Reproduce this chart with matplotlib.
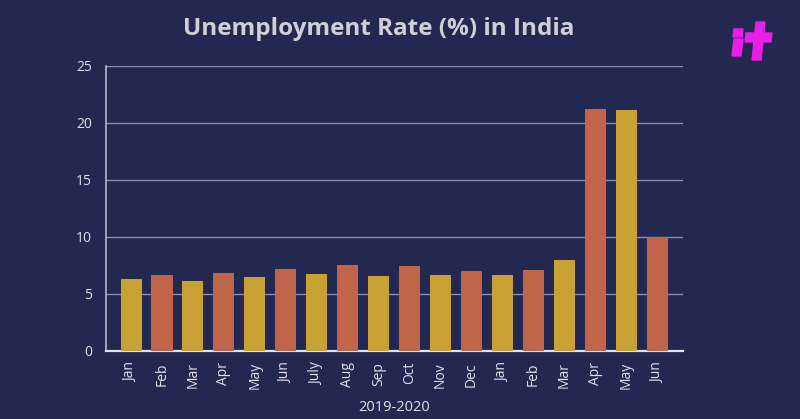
import matplotlib
matplotlib.use('Agg')
import matplotlib.pyplot as plt
from matplotlib.patches import Polygon
import numpy as np

months = ['Jan', 'Feb', 'Mar', 'Apr', 'May', 'Jun', 'July', 'Aug', 'Sep', 'Oct',
          'Nov', 'Dec', 'Jan', 'Feb', 'Mar', 'Apr', 'May', 'Jun']
rate = [6.3, 6.67, 6.14, 6.8, 6.46, 7.19, 6.75, 7.54, 6.58, 7.48,
        6.63, 6.99, 6.63, 7.08, 7.98, 21.25, 21.1, 10.0]

bg = '#222850'
gold = '#c9a033'
rust = '#c0654a'
text_col = '#e2e2ea'

plt.rcParams['font.family'] = ['Open Sans', 'DejaVu Sans']

fig = plt.figure(figsize=(8, 4.19), dpi=100, facecolor=bg)
ax = fig.add_axes([0.1325, 0.1623, 0.7215, 0.6802], facecolor=bg)

x = np.arange(len(months))
colors = [gold if i % 2 == 0 else rust for i in range(len(months))]
ax.bar(x, rate, width=0.68, color=colors, zorder=3)

ax.set_ylim(0, 25)
ax.set_xlim(-0.81, 17.84)
ax.set_yticks([0, 5, 10, 15, 20, 25])
ax.set_xticks(x)
ax.set_xticklabels(months, rotation=90)
ax.tick_params(axis='both', length=0, labelcolor=text_col, labelsize=10)
ax.tick_params(axis='x', pad=8)
ax.tick_params(axis='y', pad=10)
ax.grid(axis='y', color='#8a8eb4', linewidth=1, zorder=0)

for s in ['top', 'right']:
    ax.spines[s].set_visible(False)
ax.spines['left'].set_color('#b8bccf')
ax.spines['left'].set_linewidth(1.2)
ax.spines['bottom'].set_color('#e0e2ee')
ax.spines['bottom'].set_linewidth(1.6)

ax.set_xlabel('2019-2020', color=text_col, fontsize=10.5, labelpad=8)

fig.text(0.473, 0.93, 'Unemployment Rate (%) in India', ha='center', va='center',
         fontsize=17.5, fontweight='bold', color='#cfcfd6')

# logo, drawn in pixel coordinates of the 800x419 figure
W, H = 800, 419
logo = [
    [(733, 37), (742, 37), (743, 29), (734, 29)],
    [(732, 56), (741, 56), (743, 39), (734, 39)],
    [(752, 60), (761, 60), (765, 22), (756, 22)],
    [(745, 42), (771, 42), (772, 33), (746, 33)],
]
for pts in logo:
    fig.patches.append(Polygon([(px / W, 1 - py / H) for px, py in pts], closed=True,
                               transform=fig.transFigure, color='#e81fe8'))

fig.savefig('out.png', dpi=100, facecolor=bg)
